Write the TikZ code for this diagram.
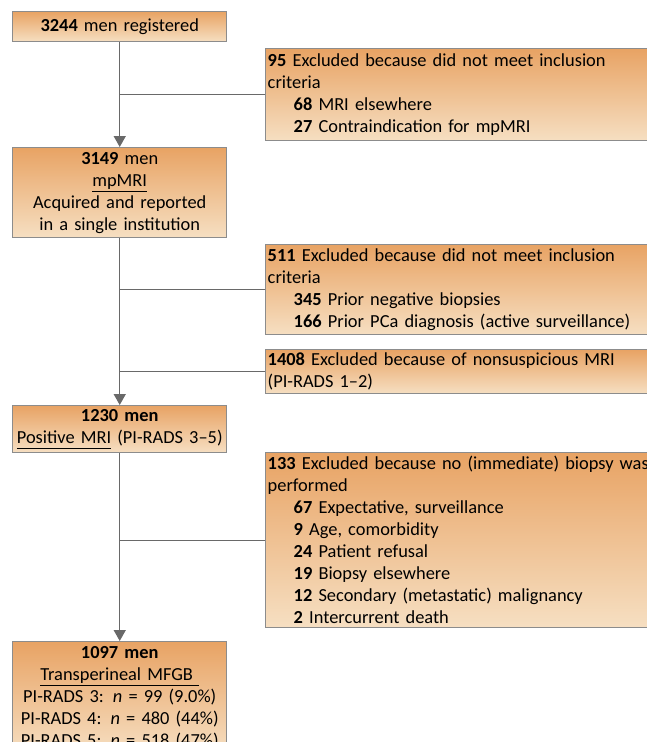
\documentclass[tikz,border=0pt]{standalone}
\usepackage{fontspec}
\setmainfont{Carlito}
\usetikzlibrary{arrows.meta}
\newdimen\pxu \pxu=0.75pt
\definecolor{otop}{RGB}{232,163,100}
\definecolor{obot}{RGB}{246,223,194}
\definecolor{boxgray}{RGB}{140,140,140}
\definecolor{linegray}{RGB}{105,105,105}
\newcommand\myul[1]{\underline{#1\vphantom{p}}}
\newcommand\ind{\hspace*{26\pxu}}
\begin{document}
\begin{tikzpicture}[x=0.75pt,y=-0.75pt,
  box/.style={draw=boxgray, line width=1.1pt, top color=otop, bottom color=obot,
    inner xsep=2\pxu, inner ysep=1\pxu,
    font=\fontsize{13.8pt}{16.5pt}\selectfont, anchor=north west},
  lbox/.style={box, text width=210\pxu, align=center, minimum width=214\pxu},
  rbox/.style={box, text width=420\pxu, align=left, minimum width=424\pxu},
  conn/.style={draw=linegray, line width=1.1pt},
  arr/.style={conn, -{Triangle[width=9pt,length=8.25pt]}}
]
\useasboundingbox (0,0) rectangle (646,742);
\node[lbox, minimum height=30\pxu] (b1) at (12,11) {\textbf{3244} men registered};
\node[rbox, minimum height=92\pxu] (b2) at (265,48) {\textbf{95} Excluded because did not meet inclusion\\criteria\\\ind\textbf{68} MRI elsewhere\\\ind\textbf{27} Contraindication for mpMRI};
\node[lbox, minimum height=90\pxu] (b3) at (12,147) {\textbf{3149} men\\\myul{mpMRI}\\Acquired and reported\\in a single institution};
\node[rbox, minimum height=90\pxu] (b4) at (265,244) {\textbf{511} Excluded because did not meet inclusion\\criteria\\\ind\textbf{345} Prior negative biopsies\\\ind\textbf{166} Prior PCa diagnosis (active surveillance)};
\node[rbox, minimum height=44\pxu] (b5) at (265,349) {\textbf{1408} Excluded because of nonsuspicious MRI\\(PI-RADS 1--2)};
\node[lbox, minimum height=47\pxu] (b6) at (12,405) {\textbf{1230 men}\\\myul{Positive MRI} (PI-RADS 3--5)};
\node[rbox, minimum height=175\pxu] (b7) at (265,452) {\textbf{133} Excluded because no (immediate) biopsy was\\performed\\\ind\textbf{67} Expectative, surveillance\\\ind\textbf{9} Age, comorbidity\\\ind\textbf{24} Patient refusal\\\ind\textbf{19} Biopsy elsewhere\\\ind\textbf{12} Secondary (metastatic) malignancy\\\ind\textbf{2} Intercurrent death};
\node[lbox, minimum height=112\pxu] (b8) at (12,641) {\textbf{1097 men}\\\myul{Transperineal MFGB\ }\\PI-RADS 3: \textit{n} = 99 (9.0\%)\\PI-RADS 4: \textit{n} = 480 (44\%)\\PI-RADS 5: \textit{n} = 518 (47\%)};
\draw[arr] (b1.south) -- (b3.north);
\draw[arr] (b3.south) -- (b6.north);
\draw[arr] (b6.south) -- (b8.north);
\draw[conn] (b2.west) -- (b2.west -| b1.south);
\draw[conn] (b4.west) -- (b4.west -| b3.south);
\draw[conn] (b5.west) -- (b5.west -| b3.south);
\draw[conn] (b7.west) -- (b7.west -| b6.south);
\end{tikzpicture}
\end{document}
